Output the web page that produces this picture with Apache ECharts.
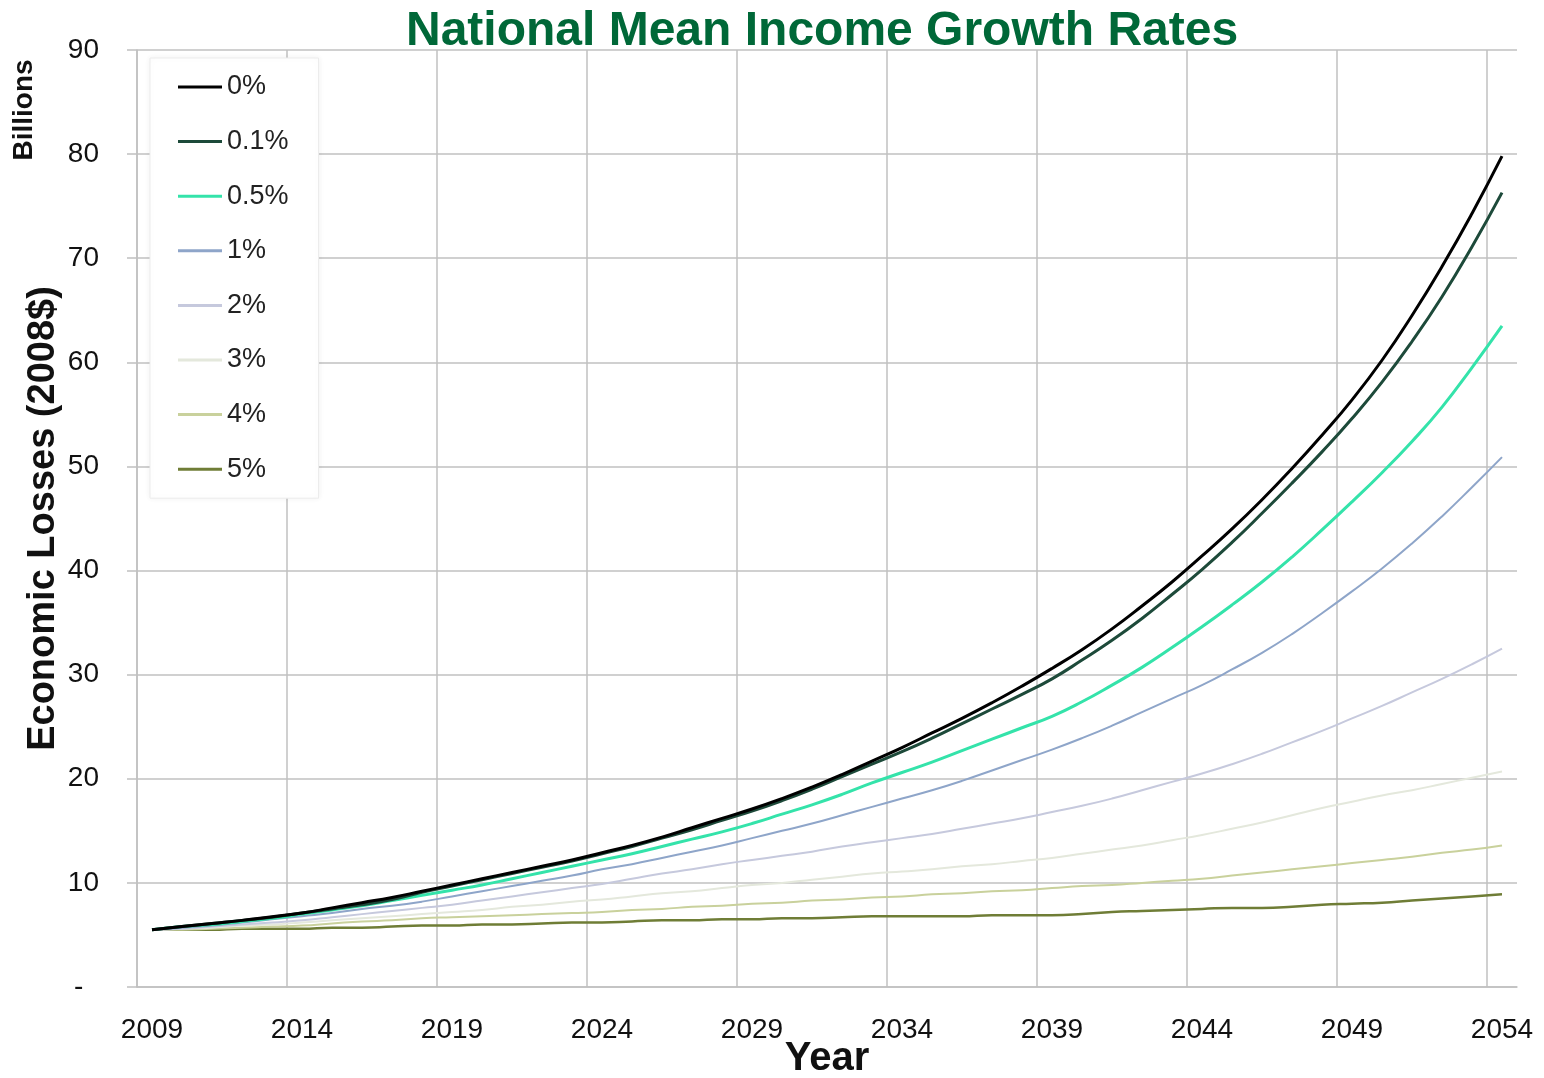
<!DOCTYPE html>
<html>
<head>
<meta charset="utf-8">
<script src="https://cdn.jsdelivr.net/npm/echarts@6/dist/echarts.min.js"></script>
<style>
  html, body { margin: 0; padding: 0; background: #fff; }
  #chart { width: 1544px; height: 1078px; }
</style>
</head>
<body>
<div id="chart"></div>
<script>
// years on the category axis
const years = []
for (let y = 2009; y <= 2054; y++) years.push(String(y))

const seriesNames = ['0%', '0.1%', '0.5%', '1%', '2%', '3%', '4%', '5%']
const seriesColors = ['#000000', '#1d4a3a', '#34e3aa', '#8ea5c9', '#c6c9dd', '#e4e8dc', '#c9d19c', '#6f7d36']
const seriesWidths = [3, 3, 3, 2, 2, 2, 2, 2.5]

// economic losses, billions of 2008$
const g0 = [5.5, 5.8, 6.1, 6.4, 6.75, 7.1, 7.6, 8.1, 8.6, 9.2,
  9.8, 10.4, 11.0, 11.6, 12.2, 12.9, 13.6, 14.4, 15.3, 16.2,
  17.1, 18.1, 19.2, 20.4, 21.7, 23.0, 24.4, 25.8, 27.3, 28.9,
  30.6, 32.4, 34.4, 36.6, 38.9, 41.4, 44.0, 46.8, 49.8, 53.0,
  56.4, 60.2, 64.5, 69.2, 74.3, 79.8]
const g01 = [5.5, 5.8, 6.1, 6.4, 6.7, 7.1, 7.5, 7.9, 8.4, 9.1,
  9.7, 10.3, 10.9, 11.5, 12.1, 12.8, 13.5, 14.3, 15.1, 16.0,
  16.9, 17.9, 19.0, 20.2, 21.4, 22.6, 23.9, 25.3, 26.7, 28.1,
  29.6, 31.4, 33.3, 35.4, 37.7, 40.1, 42.7, 45.5, 48.4, 51.4,
  54.6, 58.1, 62.0, 66.3, 71.1, 76.3]
const g05 = [5.5, 5.8, 6.0, 6.3, 6.6, 7.0, 7.4, 7.8, 8.3, 8.8,
  9.3, 9.8, 10.4, 11.0, 11.6, 12.2, 12.8, 13.5, 14.2, 14.9,
  15.7, 16.6, 17.5, 18.5, 19.6, 20.6, 21.6, 22.7, 23.8, 24.9,
  26.0, 27.4, 29.0, 30.7, 32.6, 34.6, 36.7, 38.9, 41.3, 43.9,
  46.6, 49.4, 52.4, 55.7, 59.5, 63.5]
const g1 = [5.5, 5.7, 5.9, 6.2, 6.5, 6.8, 7.1, 7.5, 7.8, 8.2,
  8.7, 9.2, 9.7, 10.2, 10.7, 11.3, 11.8, 12.4, 13.0, 13.6,
  14.3, 15.0, 15.7, 16.5, 17.3, 18.1, 18.9, 19.8, 20.8, 21.8,
  22.8, 23.9, 25.1, 26.4, 27.7, 29.0, 30.5, 32.1, 33.9, 35.9,
  38.0, 40.2, 42.6, 45.2, 48.0, 50.9]
const g2 = [5.5, 5.6, 5.8, 6.0, 6.2, 6.4, 6.7, 7.0, 7.3, 7.6,
  7.9, 8.3, 8.7, 9.1, 9.5, 9.9, 10.4, 10.9, 11.3, 11.8,
  12.2, 12.6, 13.0, 13.5, 13.9, 14.3, 14.7, 15.2, 15.7, 16.2,
  16.8, 17.4, 18.1, 18.9, 19.7, 20.5, 21.4, 22.4, 23.5, 24.6,
  25.8, 27.0, 28.3, 29.6, 31.0, 32.5]
const g3 = [5.5, 5.6, 5.7, 5.9, 6.0, 6.2, 6.4, 6.6, 6.8, 7.0,
  7.2, 7.4, 7.7, 7.9, 8.2, 8.4, 8.7, 9.0, 9.2, 9.5,
  9.8, 10.0, 10.3, 10.6, 10.9, 11.1, 11.3, 11.6, 11.8, 12.1,
  12.4, 12.8, 13.2, 13.6, 14.1, 14.6, 15.2, 15.8, 16.5, 17.2,
  17.8, 18.4, 18.9, 19.5, 20.1, 20.7]
const g4 = [5.5, 5.5, 5.6, 5.7, 5.8, 5.9, 6.1, 6.3, 6.4, 6.6,
  6.7, 6.8, 6.9, 7.0, 7.1, 7.2, 7.4, 7.5, 7.7, 7.8,
  8.0, 8.1, 8.3, 8.4, 8.6, 8.7, 8.9, 9.0, 9.2, 9.3,
  9.5, 9.7, 9.8, 10.0, 10.2, 10.4, 10.7, 11.0, 11.3, 11.6,
  11.9, 12.2, 12.5, 12.9, 13.2, 13.6]
const g5 = [5.5, 5.5, 5.5, 5.6, 5.6, 5.6, 5.7, 5.7, 5.8, 5.9,
  5.9, 6.0, 6.0, 6.1, 6.2, 6.2, 6.3, 6.4, 6.4, 6.5,
  6.5, 6.6, 6.6, 6.7, 6.8, 6.8, 6.8, 6.8, 6.9, 6.9,
  6.9, 7.0, 7.2, 7.3, 7.4, 7.5, 7.6, 7.6, 7.7, 7.9,
  8.0, 8.1, 8.3, 8.5, 8.7, 8.9]

const seriesData = [g0, g01, g05, g1, g2, g3, g4, g5]

const FONT = 'Liberation Sans, Arial, sans-serif'
const GRID_COLOR = '#c0c0c0'

const chart = echarts.init(document.getElementById('chart'))

const option = {
  backgroundColor: '#ffffff',
  animation: false,
  title: {
    text: 'National Mean Income Growth Rates',
    left: 401,
    top: 3,
    textStyle: {
      fontFamily: FONT,
      fontSize: 48,
      fontWeight: 'bold',
      color: '#006838'
    }
  },
  legend: {
    orient: 'vertical',
    left: 150,
    top: 58,
    padding: [14, 30, 14, 28],
    icon: 'rect',
    itemWidth: 44,
    itemHeight: 3,
    itemGap: 24.6,
    backgroundColor: '#ffffff',
    borderColor: '#ececec',
    borderWidth: 1,
    shadowColor: 'rgba(0,0,0,0.06)',
    shadowBlur: 6,
    textStyle: {
      fontFamily: FONT,
      fontSize: 27,
      lineHeight: 30,
      color: '#222'
    },
    data: seriesNames
  },
  grid: {
    left: 137,
    right: 27,
    top: 50,
    bottom: 91,
    containLabel: false,
    outerBoundsMode: 'none'
  },
  xAxis: {
    type: 'category',
    data: years,
    boundaryGap: true,
    name: 'Year',
    nameLocation: 'middle',
    nameGap: 52,
    nameMoveOverlap: false,
    nameTextStyle: {
      fontFamily: FONT,
      fontSize: 40,
      fontWeight: 'bold',
      color: '#111'
    },
    axisLine: { lineStyle: { color: GRID_COLOR, width: 1.5 } },
    axisTick: { interval: 4, length: 9, lineStyle: { color: GRID_COLOR, width: 1.5 } },
    axisLabel: {
      interval: 4,
      margin: 29,
      fontFamily: FONT,
      fontSize: 28,
      color: '#111'
    },
    splitLine: {
      show: true,
      interval: 4,
      showMaxLine: false,
      lineStyle: { color: GRID_COLOR, width: 1.5 }
    }
  },
  yAxis: {
    type: 'value',
    min: 0,
    max: 90,
    interval: 10,
    name: 'Economic Losses (2008$)',
    nameLocation: 'middle',
    nameRotate: 90,
    nameGap: 74,
    nameMoveOverlap: false,
    nameTextStyle: {
      fontFamily: FONT,
      fontSize: 38,
      fontWeight: 'bold',
      color: '#111'
    },
    axisLine: { show: true, lineStyle: { color: GRID_COLOR, width: 1.5 } },
    axisTick: { show: true, length: 10, lineStyle: { color: GRID_COLOR, width: 1.5 } },
    axisLabel: {
      margin: 38,
      fontFamily: FONT,
      fontSize: 28,
      color: '#111',
      formatter: v => (v === 0 ? '-  ' : String(v))
    },
    splitLine: { lineStyle: { color: GRID_COLOR, width: 1.5 } }
  },
  graphic: [
    {
      type: 'text',
      x: 24,
      y: 110,
      rotation: Math.PI / 2,
      style: {
        text: 'Billions',
        fontFamily: FONT,
        fontSize: 28,
        fontWeight: 'bold',
        fill: '#111',
        align: 'center',
        verticalAlign: 'middle'
      }
    }
  ],
  series: seriesNames.map((name, i) => ({
    name: name,
    type: 'line',
    data: seriesData[i],
    symbol: 'none',
    smooth: 0.5,
    z: 10 - i,
    lineStyle: { color: seriesColors[i], width: seriesWidths[i] },
    itemStyle: { color: seriesColors[i] }
  }))
}

chart.setOption(option)
</script>
</body>
</html>
